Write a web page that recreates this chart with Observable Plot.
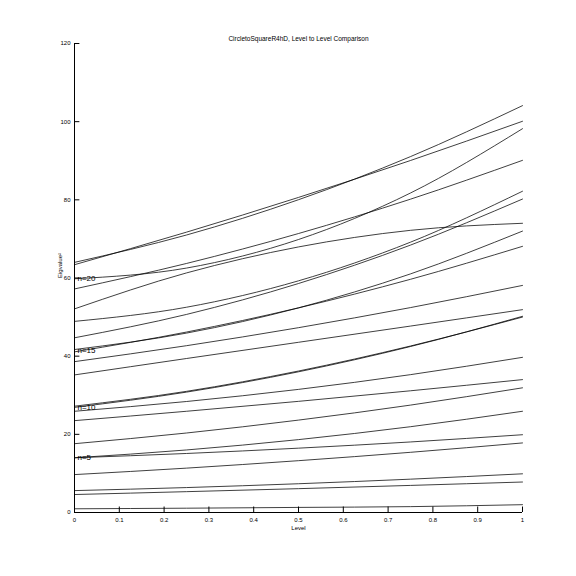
<!DOCTYPE html>
<html>
<head>
<meta charset="utf-8">
<script src="https://cdn.jsdelivr.net/npm/d3@7"></script>
<script src="https://cdn.jsdelivr.net/npm/@observablehq/plot@0.6"></script>
<style>
  html, body { margin: 0; padding: 0; background: #fff; }
  #chart { width: 576px; height: 576px; }
</style>
</head>
<body>
<div id="chart"></div>
<script>
const levels = [0, 0.25, 0.5, 0.75, 1];
const s01 = [0.95, 1.1, 1.3, 1.5, 2.0];
const s02 = [4.6, 5.33, 6.1, 6.93, 7.8];
const s03 = [5.6, 6.38, 7.36, 8.53, 9.9];
const s04 = [9.7, 11.35, 13.26, 15.4, 17.8];
const s05 = [14.0, 15.1, 16.46, 18.05, 19.9];
const s06 = [14.0, 16.0, 18.65, 21.95, 25.9];
const s07 = [17.6, 20.34, 23.64, 27.48, 31.9];
const s08 = [23.5, 25.9, 28.44, 31.14, 34.0];
const s09 = [25.9, 28.4, 31.5, 35.27, 39.7];
const s10 = [26.9, 30.8, 36.0, 42.47, 50.2];
const s11 = [27.2, 31.0, 36.2, 42.6, 50.0];
const s12 = [35.2, 39.4, 43.55, 47.7, 51.9];
const s13 = [38.6, 42.68, 47.29, 52.43, 58.1];
const s14 = [41.1, 46.17, 52.36, 59.67, 68.1];
const s15 = [41.7, 45.9, 52.36, 61.05, 72.0];
const s16 = [44.7, 50.68, 58.59, 68.42, 80.2];
const s17 = [48.9, 52.52, 59.28, 69.17, 82.2];
const s18 = [52.1, 61.3, 67.95, 72.2, 74.0];
const s19 = [57.2, 63.72, 71.38, 80.17, 90.1];
const s20 = [59.8, 62.54, 69.85, 81.75, 98.2];
const s21 = [63.4, 71.73, 80.62, 90.06, 100.1];
const s22 = [64.0, 71.0, 80.03, 91.06, 104.1];
const series = [s01,s02,s03,s04,s05,s06,s07,s08,s09,s10,s11,s12,s13,s14,s15,s16,s17,s18,s19,s20,s21,s22];

const labelNames = ["n=5", "n=10", "n=15", "n=20"];
const labelValues = [14.0, 27.0, 41.4, 59.8];

const xTicks = [0, 0.1, 0.2, 0.3, 0.4, 0.5, 0.6, 0.7, 0.8, 0.9, 1];
const xTickLabels = ["0", "0.1", "0.2", "0.3", "0.4", "0.5", "0.6", "0.7", "0.8", "0.9", "1"];
const yTicks = [0, 20, 40, 60, 80, 100, 120];

const titleText = "CircletoSquareR4hD, Level to Level Comparison";
const xLabel = "Level";
const yLabel = "Eigvalue²";

const rows = [];
series.forEach((s, i) => s.forEach((v, j) => rows.push({id: i, level: levels[j], value: v})));
const labels = labelNames.map((t, i) => ({t, v: labelValues[i]}));

const font = "Liberation Sans, Arial, Helvetica, sans-serif";

const chart = Plot.plot({
  width: 576,
  height: 576,
  marginLeft: 74,
  marginRight: 54,
  marginTop: 43,
  marginBottom: 64,
  style: {fontFamily: font, background: "#fff", color: "#000"},
  x: {domain: [0, 1], axis: null},
  y: {domain: [0, 120], axis: null},
  marks: [
    Plot.line(rows, {x: "level", y: "value", z: "id", stroke: "#000", strokeWidth: 0.75, curve: "monotone-x"}),
    Plot.ruleX([0], {stroke: "#000", strokeWidth: 1}),
    Plot.ruleY([0], {stroke: "#000", strokeWidth: 1}),
    Plot.ruleX(xTicks, {x: d => d, y1: 0, y2: 1.4, stroke: "#000", strokeWidth: 1}),
    Plot.ruleY(yTicks, {y: d => d, x1: 0, x2: 0.012, stroke: "#000", strokeWidth: 1}),
    Plot.text(xTicks, {x: d => d, y: 0, text: (d, i) => xTickLabels[i], dy: 8, fontSize: 6, fill: "#000"}),
    Plot.text(yTicks, {x: 0, y: d => d, text: d => String(d), dx: -4, textAnchor: "end", fontSize: 6, fill: "#000"}),
    Plot.text(labels, {x: 0, y: "v", text: "t", dx: 3, textAnchor: "start", fontSize: 8, fill: "#000"}),
    Plot.text([titleText], {frameAnchor: "top", dy: -7, fontSize: 6.5, fill: "#000"}),
    Plot.text([xLabel], {frameAnchor: "bottom", dy: 17, fontSize: 6, fill: "#000"}),
    Plot.text([yLabel], {frameAnchor: "left", dx: -14, rotate: -90, fontSize: 6, fill: "#000"})
  ]
});
document.getElementById("chart").appendChild(chart);
</script>
</body>
</html>
